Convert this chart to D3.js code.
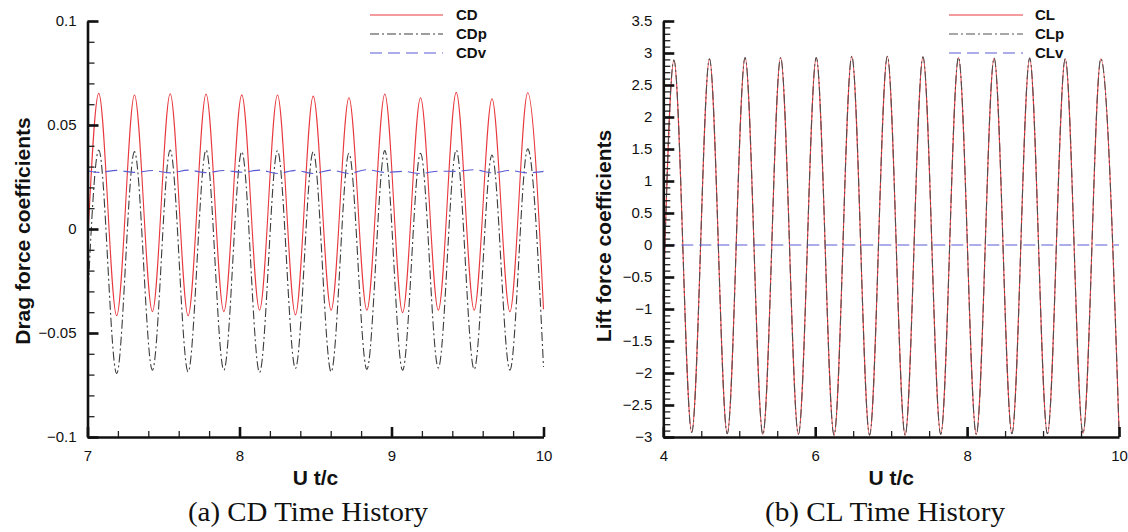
<!DOCTYPE html>
<html>
<head>
<meta charset="utf-8">
<script src="https://cdn.jsdelivr.net/npm/d3@7"></script>
<style>
  body { margin: 0; background: #fff; }
  text { font-family: 'Liberation Sans', Arial, sans-serif; }
</style>
</head>
<body>
<svg width="1128" height="532"></svg>
<script>
// drag history, read at start, peaks/troughs and end
const cdTimes = [7, 7.074, 7.192, 7.309, 7.427, 7.544, 7.662, 7.780, 7.897, 8.015, 8.132, 8.250, 8.368,
  8.485, 8.603, 8.720, 8.838, 8.956, 9.073, 9.191, 9.308, 9.426, 9.544, 9.661, 9.779, 9.896, 10];
const cdValues = [-0.008, 0.0652, -0.0417, 0.0644, -0.0397, 0.0650, -0.0417, 0.0649, -0.0397, 0.0645, -0.0390,
  0.0644, -0.0413, 0.0639, -0.0390, 0.0631, -0.0390, 0.0649, -0.0402, 0.0631, -0.0390, 0.0657, -0.0390,
  0.0626, -0.0398, 0.0655, -0.0386];
const cdpValues = [-0.036, 0.0380, -0.0695, 0.0372, -0.0679, 0.0380, -0.0687, 0.0380, -0.0679, 0.0372, -0.0690,
  0.0377, -0.0671, 0.0372, -0.0687, 0.0364, -0.0675, 0.0377, -0.0679, 0.0364, -0.0668, 0.0380, -0.0675,
  0.0356, -0.0679, 0.0385, -0.0663];
const cdvValues = [0.0280, 0.0272, 0.0282, 0.0272, 0.0281, 0.0270, 0.0283, 0.0271, 0.0281, 0.0273, 0.0283,
  0.0267, 0.0282, 0.0267, 0.0283, 0.0267, 0.0285, 0.0272, 0.0277, 0.0267, 0.0278, 0.0277, 0.0285,
  0.0270, 0.0281, 0.0270, 0.0277];

// lift history
const clTimes = [4, 4.140, 4.374, 4.608, 4.842, 5.077, 5.311, 5.545, 5.779, 6.014, 6.248, 6.482, 6.716,
  6.950, 7.184, 7.419, 7.653, 7.887, 8.121, 8.356, 8.590, 8.824, 9.058, 9.292, 9.526, 9.761, 10];
const clValues = [-0.85, 2.89, -2.93, 2.91, -2.95, 2.93, -2.96, 2.93, -2.96, 2.93, -2.97, 2.95, -2.97,
  2.95, -2.97, 2.94, -2.96, 2.93, -2.96, 2.92, -2.95, 2.92, -2.95, 2.91, -2.94, 2.91, -2.88];
const clpValues = [-0.85, 2.89, -2.93, 2.91, -2.95, 2.93, -2.96, 2.93, -2.96, 2.93, -2.97, 2.95, -2.97,
  2.95, -2.97, 2.94, -2.96, 2.93, -2.96, 2.92, -2.95, 2.92, -2.95, 2.91, -2.94, 2.91, -2.88];
const clvTimes = [4, 10];
const clvValues = [0, 0];

// axis ticks
const cdXTicks = [7, 8, 9, 10];
const cdYTicks = [0.1, 0.05, 0, -0.05, -0.1];
const clXTicks = [4, 6, 8, 10];
const clYTicks = [3.5, 3, 2.5, 2, 1.5, 1, 0.5, 0, -0.5, -1, -1.5, -2, -2.5, -3];

const svg = d3.select('svg');
svg.append('rect').attr('width', 1128).attr('height', 532).attr('fill', '#fff');

const RED = '#e8383d', GREY = '#3c3c3c', BLUE = '#5a5ad6';
const DASHDOT = '9,3,2,3', DASH = '12,6';

function panel(o) {
  const x = d3.scaleLinear().domain(o.xDomain).range([o.left, o.right]);
  const y = d3.scaleLinear().domain(o.yDomain).range([o.bottom, o.top]);
  const g = svg.append('g');

  // series
  const line = d3.line()
    .x((d) => x(d[0]))
    .y((d) => y(d[1]))
    .curve(d3.curveMonotoneX);

  o.series.forEach((s) => {
    g.append('path')
      .datum(d3.zip(s.t, s.v))
      .attr('fill', 'none')
      .attr('stroke', s.color)
      .attr('stroke-width', s.width || 1.1)
      .attr('stroke-dasharray', s.dash || null)
      .attr('d', line);
  });

  // minor ticks
  g.append('g')
    .attr('transform', `translate(${o.left},0)`)
    .call(d3.axisLeft(y).tickValues(o.yMinor).tickSize(-7).tickFormat(''))
    .call((a) => a.select('.domain').remove())
    .call((a) => a.selectAll('line').attr('stroke', '#222').attr('stroke-width', 1.3));
  g.append('g')
    .attr('transform', `translate(0,${o.bottom})`)
    .call(d3.axisBottom(x).tickValues(o.xMinor).tickSize(-6).tickFormat(''))
    .call((a) => a.select('.domain').remove())
    .call((a) => a.selectAll('line').attr('stroke', '#222').attr('stroke-width', 1.3));

  // major axes
  const yAxis = g.append('g')
    .attr('transform', `translate(${o.left},0)`)
    .call(d3.axisLeft(y).tickValues(o.yTicks).tickSize(-11).tickSizeOuter(0).tickPadding(11).tickFormat(d3.format('')));
  const xAxis = g.append('g')
    .attr('transform', `translate(0,${o.bottom})`)
    .call(d3.axisBottom(x).tickValues(o.xTicks).tickSize(-10).tickSizeOuter(0).tickPadding(13).tickFormat(d3.format('')));
  [yAxis, xAxis].forEach((a) => {
    a.select('.domain').attr('stroke', '#111').attr('stroke-width', 2.6);
    a.selectAll('line').attr('stroke', '#111').attr('stroke-width', 2.6);
    a.selectAll('text').attr('font-size', 15).attr('fill', '#111')
      .style('font-family', "'Liberation Sans', Arial, sans-serif");
  });

  // titles
  g.append('text')
    .attr('x', (o.left + o.right) / 2)
    .attr('y', 478)
    .attr('dy', '0.35em')
    .attr('text-anchor', 'middle')
    .attr('font-size', 21)
    .attr('font-weight', 'bold')
    .attr('fill', '#111')
    .text('U t/c');

  g.append('text')
    .attr('transform', `translate(${o.yTitleX},${o.yTitleY}) rotate(-90)`)
    .attr('dy', '0.35em')
    .attr('text-anchor', 'middle')
    .attr('font-size', 21)
    .attr('font-weight', 'bold')
    .attr('fill', '#111')
    .text(o.yTitle);

  g.append('text')
    .attr('x', o.captionX)
    .attr('y', 521)
    .attr('text-anchor', 'middle')
    .attr('font-size', 27)
    .attr('textLength', 240)
    .attr('lengthAdjust', 'spacingAndGlyphs')
    .style('font-family', "'Liberation Serif', 'Times New Roman', serif")
    .attr('fill', '#111')
    .text(o.caption);

  // legend
  const leg = g.append('g');
  o.series.slice().sort((a, b) => a.order - b.order).forEach((s, i) => {
    const ly = o.legend.y + i * 19;
    leg.append('line')
      .attr('x1', o.legend.x1).attr('x2', o.legend.x2)
      .attr('y1', ly).attr('y2', ly)
      .attr('stroke', s.color)
      .attr('stroke-width', 1.2)
      .attr('stroke-dasharray', s.dash || null);
    leg.append('text')
      .attr('x', o.legend.tx)
      .attr('y', ly)
      .attr('dy', '0.36em')
      .attr('font-size', 15)
      .attr('font-weight', 'bold')
      .attr('fill', '#111')
      .text(s.name);
  });
}

panel({
  left: 87.5, right: 543.5, top: 21, bottom: 437,
  xDomain: [7, 10], yDomain: [-0.1, 0.1],
  xTicks: cdXTicks, yTicks: cdYTicks,
  xMinor: d3.range(7, 10.001, 0.2), yMinor: d3.range(-0.1, 0.1001, 0.01),
  yTitle: 'Drag force coefficients', yTitleX: 23, yTitleY: 231,
  caption: '(a) CD Time History', captionX: 308,
  legend: { x1: 370, x2: 443, tx: 456, y: 15 },
  series: [
    { name: 'CD', t: cdTimes, v: cdValues, color: RED, order: 0 },
    { name: 'CDp', t: cdTimes, v: cdpValues, color: GREY, dash: DASHDOT, order: 1 },
    { name: 'CDv', t: cdTimes, v: cdvValues, color: BLUE, dash: DASH, order: 2 }
  ]
});

panel({
  left: 663.3, right: 1119, top: 21, bottom: 437,
  xDomain: [4, 10], yDomain: [-3, 3.5],
  xTicks: clXTicks, yTicks: clYTicks,
  xMinor: d3.range(4, 10.001, 0.5), yMinor: d3.range(-3, 3.5001, 0.1),
  yTitle: 'Lift force coefficients', yTitleX: 604, yTitleY: 236,
  caption: '(b) CL Time History', captionX: 885,
  legend: { x1: 949, x2: 1023, tx: 1035, y: 15 },
  series: [
    { name: 'CL', t: clTimes, v: clValues, color: RED, order: 0 },
    { name: 'CLp', t: clTimes, v: clpValues, color: '#505050', dash: DASHDOT, order: 1 },
    { name: 'CLv', t: clvTimes, v: clvValues, color: BLUE, dash: DASH, order: 2 }
  ]
});
</script>
</body>
</html>
